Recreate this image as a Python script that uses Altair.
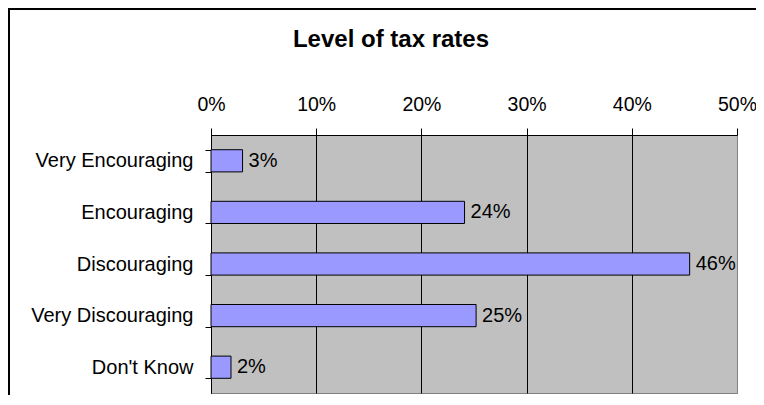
import altair as alt
import pandas as pd

categories = ["Very Encouraging", "Encouraging", "Discouraging", "Very Discouraging", "Don't Know"]
values = [0.030, 0.241, 0.455, 0.252, 0.019]
labels = ["3%", "24%", "46%", "25%", "2%"]
x_ticks = [0, 0.1, 0.2, 0.3, 0.4, 0.5]
title_text = "Level of tax rates"

df = pd.DataFrame({"category": categories, "value": values, "label": labels})

FONT = "Liberation Sans"

y_enc = alt.Y(
    "category:N", sort=categories, title=None,
    scale=alt.Scale(paddingInner=0.57, paddingOuter=0.285),
    axis=alt.Axis(tickBand="extent", domainColor="black", domainWidth=1,
                  tickColor="black", tickSize=6, tickWidth=1,
                  labelPadding=12, labelFont=FONT, labelFontSize=20,
                  labelColor="black", grid=False),
)
x_enc = alt.X(
    "value:Q", title=None,
    scale=alt.Scale(domain=[0, 0.5], nice=False, zero=True),
    axis=alt.Axis(orient="top", format=".0%", values=x_ticks,
                  domainColor="black", tickColor="black", tickSize=7,
                  labelPadding=14, labelFont=FONT, labelFontSize=19.5,
                  labelColor="black", labelFlush=False,
                  grid=True, gridOpacity=1, gridWidth=1,
                  gridColor={"condition": {"test": "datum.value >= 0.5", "value": "#808080"},
                             "value": "black"}),
)

bars = alt.Chart(df).mark_bar(fill="#9999FF", stroke="black", strokeWidth=1).encode(
    x=x_enc, y=y_enc
)
text = alt.Chart(df).mark_text(
    align="left", baseline="middle", dx=6, font=FONT, fontSize=20, color="black"
).encode(x="value:Q", y=alt.Y("category:N", sort=categories), text="label:N")

border = alt.Chart(alt.Data(values=[{}])).mark_rect(
    fill="transparent", stroke="black", strokeWidth=2
).encode(x=alt.value(-202), x2=alt.value(600), y=alt.value(-126), y2=alt.value(400))

chart = alt.layer(bars, text, border).properties(
    width=526, height=258,
    padding={"left": 203, "top": 127, "right": 19, "bottom": 2},
    autosize=alt.AutoSizeParams(type="none"),
    background="white",
    title=alt.Title(title_text, font=FONT, fontSize=24, fontWeight="bold", color="black",
                    anchor="middle", frame="group", dx=-83, offset=0, dy=44),
).configure_view(fill="#C0C0C0", stroke="#808080", strokeWidth=1)

chart.save("out.html", embed_options={"renderer": "svg", "actions": False})
